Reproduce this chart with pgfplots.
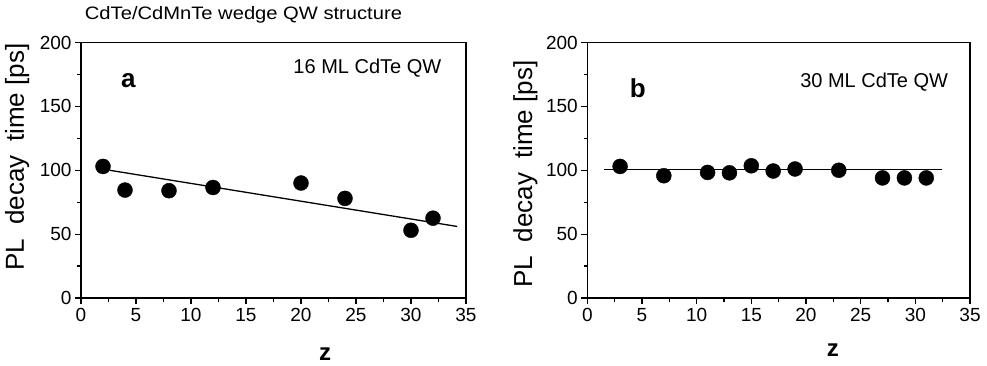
\documentclass[border=0pt]{standalone}
\usepackage{pgfplots}
\pgfplotsset{compat=1.18}
\usepackage{fontspec}
\setmainfont{Liberation Sans}
\newcommand{\fs}[1]{\fontsize{#1}{#1}\selectfont}
\pgfplotsset{
  panel/.style={
    scale only axis, height=255.5pt,
    xmin=0, xmax=35, ymin=0, ymax=200,
    xtick={0,5,...,35}, ytick={0,50,...,200},
    minor x tick num=1, minor y tick num=1,
    tick align=outside, xtick pos=bottom, ytick pos=left,
    major tick length=6pt, minor tick length=3.5pt,
    axis line style={line width=1.4pt},
    every tick/.style={line width=1.2pt, black},
    tick label style={font=\fs{19}},
    /pgf/number format/assume math mode=true,
    xticklabel style={yshift=-1pt},
    clip=false,
  }
}
\begin{document}
\begin{tikzpicture}
\path[use as bounding box] (-81pt,-67pt) rectangle (906pt,298pt);
\begin{axis}[panel, width=385pt, at={(0pt,0pt)}, anchor=south west]
  \addplot[black, line width=1.3pt] coordinates {(2.6,100) (34.2,56)};
  \addplot[only marks, mark=*, mark size=7.5pt, black] coordinates {
    (2,103) (4,84.5) (8,84) (12,86.5) (20,90) (24,78) (30,53) (32,62.5)};
  \node[font=\bfseries\fs{26}] at (rel axis cs:0.123,0.849) {a};
  \node[font=\fs{20}, anchor=base east] at (rel axis cs:0.945,0.877) {16 ML CdTe QW};
  \node[font=\fs{18}] at (rel axis cs:0.422,1.108) {\scalebox{1.12}[1]{CdTe/CdMnTe wedge QW structure}};
  \node[font=\bfseries\fs{24}] at (rel axis cs:0.634,-0.219) {z};
  \node[font=\fs{26}, rotate=90] at (rel axis cs:-0.166,0.552) {PL\hspace{0.25em} decay\hspace{0.25em} time [ps]};
\end{axis}
\begin{axis}[panel, width=382.7pt, at={(506.3pt,0pt)}, anchor=south west]
  \addplot[black, line width=1.3pt] coordinates {(1.5,100.5) (32.4,100.5)};
  \addplot[only marks, mark=*, mark size=7.5pt, black] coordinates {
    (3,103) (7,95.7) (11,98.3) (13,98) (15,103.5) (17,99.4) (19,101) (23,100) (27,94) (29,94) (31,94)};
  \node[font=\bfseries\fs{26}] at (rel axis cs:0.132,0.822) {b};
  \node[font=\fs{20}, anchor=base east] at (rel axis cs:0.952,0.822) {30 ML CdTe QW};
  \node[font=\bfseries\fs{24}] at (rel axis cs:0.642,-0.204) {z};
  \node[font=\fs{26}, rotate=90] at (rel axis cs:-0.162,0.485) {PL\hspace{0.25em} decay\hspace{0.25em} time [ps]};
\end{axis}
\end{tikzpicture}
\end{document}
